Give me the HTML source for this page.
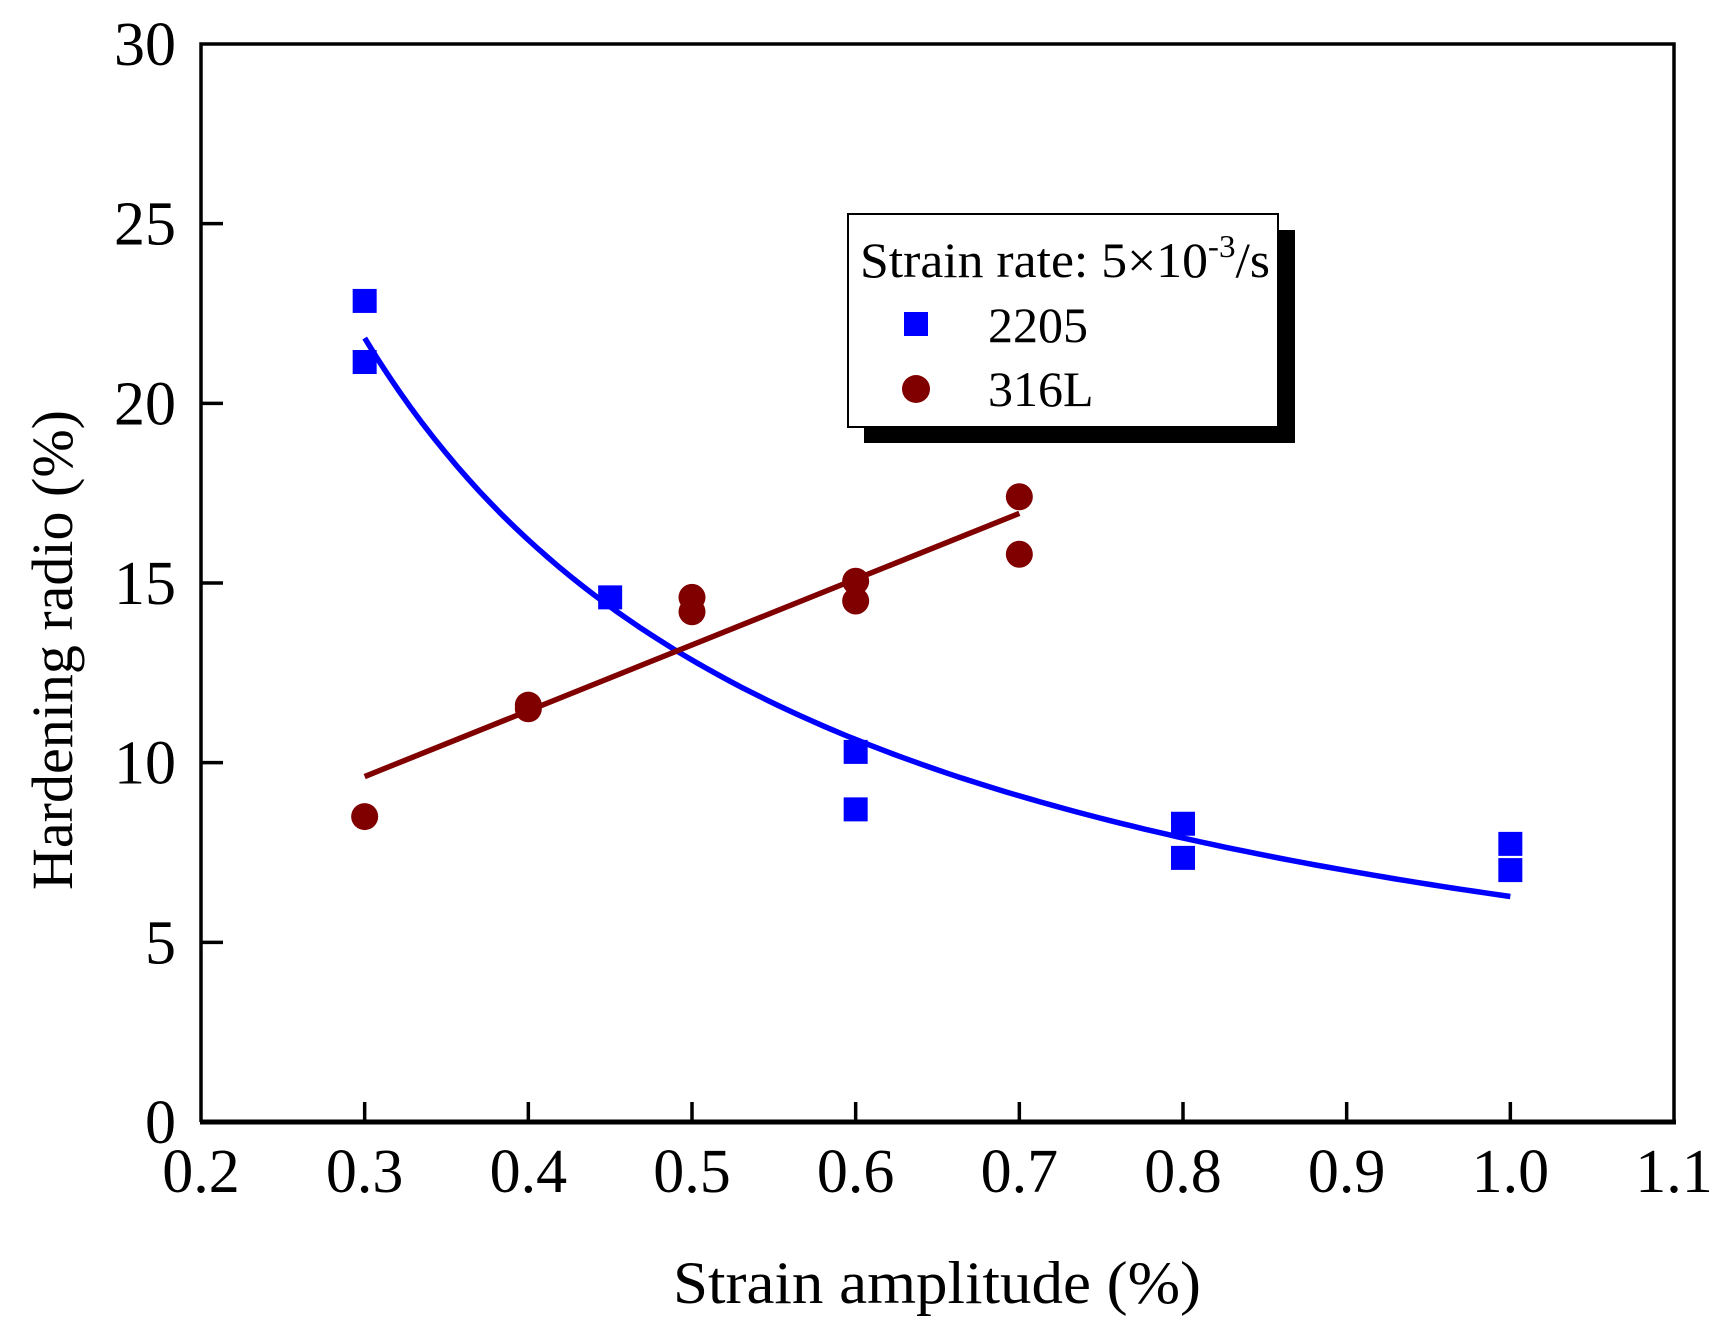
<!DOCTYPE html>
<html><head><meta charset="utf-8"><style>
html,body{margin:0;padding:0;background:#fff}
svg{display:block;font-family:"Liberation Serif",serif}
</style></head><body>
<svg id="chart" width="1727" height="1329" viewBox="0 0 1727 1329">
<rect x="0" y="0" width="1727" height="1329" fill="#fff"/>
<g id="marks"></g>
<g id="axes"></g>
<g>
<rect x="864" y="230" width="431" height="213" fill="#000"/>
<rect x="848" y="214" width="430" height="213" fill="#fff" stroke="#000" stroke-width="2"/>
<text x="860" y="277" font-size="50" textLength="410" lengthAdjust="spacingAndGlyphs">Strain rate: 5×10<tspan dy="-20" font-size="32">-3</tspan><tspan dy="20">/s</tspan></text>
<rect x="904" y="312" width="24" height="24" fill="#0000ff"/>
<text x="988" y="342" font-size="50">2205</text>
<circle cx="916" cy="389" r="14" fill="#800000"/>
<text x="988" y="406" font-size="50">316L</text>
</g>
<text x="937" y="1303" font-size="60" text-anchor="middle" textLength="528" lengthAdjust="spacingAndGlyphs">Strain amplitude (%)</text>
<text transform="translate(72,650) rotate(-90)" font-size="58" text-anchor="middle">Hardening radio (%)</text>
</svg>
<script>
const xTicks = [0.2,0.3,0.4,0.5,0.6,0.7,0.8,0.9,1.0,1.1];
const xTickLabels = ["0.2","0.3","0.4","0.5","0.6","0.7","0.8","0.9","1.0","1.1"];
const yTicks = [0,5,10,15,20,25,30];
const yTickLabels = ["0","5","10","15","20","25","30"];
const x2205 = [0.3,0.3,0.45,0.6,0.6,0.8,0.8,1.0,1.0];
const y2205 = [22.85,21.15,14.6,10.3,8.7,8.3,7.35,7.74,7.01];
const x316 = [0.3,0.4,0.4,0.5,0.5,0.6,0.6,0.7,0.7];
const y316 = [8.5,11.6,11.5,14.6,14.2,15.05,14.5,17.4,15.8];

const L=201,R=1674,T=44,B=1122;
const sx=v=>L+(v-0.2)/(0.9)*(R-L);
const sy=v=>B-(v/30)*(B-T);
const NS="http://www.w3.org/2000/svg";
const marks=document.getElementById('marks'), axes=document.getElementById('axes');
function mk(tag,attrs,parent){const e=document.createElementNS(NS,tag);for(const k in attrs)e.setAttribute(k,attrs[k]);parent.appendChild(e);return e;}

// nonlinear least-squares power fit y = a*x^b
function powerFit(xs,ys){let best=null;
 for(let b=-3;b<=0;b+=0.001){let num=0,den=0;for(let i=0;i<xs.length;i++){const p=Math.pow(xs[i],b);num+=ys[i]*p;den+=p*p;}
  const a=num/den;let s=0;for(let i=0;i<xs.length;i++){const r=ys[i]-a*Math.pow(xs[i],b);s+=r*r;}
  if(!best||s<best.s)best={a,b,s};}
 return x=>best.a*Math.pow(x,best.b);}
function linFit(xs,ys){const n=xs.length;let a=0,b=0,c=0,d=0;for(let i=0;i<n;i++){a+=xs[i];b+=ys[i];c+=xs[i]*xs[i];d+=xs[i]*ys[i];}const k=(n*d-a*b)/(n*c-a*a);const m=(b-k*a)/n;return x=>m+k*x;}
const f1=powerFit(x2205,y2205), f2=linFit(x316,y316);
let p1="";const x1a=Math.min(...x2205),x1b=Math.max(...x2205);
for(let i=0;i<=100;i++){const x=x1a+(x1b-x1a)*i/100;p1+=(i?"L":"M")+sx(x).toFixed(1)+","+sy(f1(x)).toFixed(1);}
const fit1=mk('path',{d:p1,fill:"none",stroke:"#0000ff","stroke-width":5.5},marks);


const x2a=Math.min(...x316),x2b=Math.max(...x316);
const fit2=mk('line',{x1:sx(x2a),y1:sy(f2(x2a)),x2:sx(x2b),y2:sy(f2(x2b)),stroke:"#800000","stroke-width":5.5},marks);



x2205.forEach((x,i)=>{const r=mk('rect',{x:sx(x)-12,y:sy(y2205[i])-12,width:24,height:24,fill:"#0000ff"},marks);

});
x316.forEach((x,i)=>{const c=mk('circle',{cx:sx(x),cy:sy(y316[i]),r:13.5,fill:"#800000"},marks);

});

const fr=mk('path',{d:`M${L},${B}L${L},${T}L${R},${T}L${R},${B}`,fill:"none",stroke:"#000","stroke-width":3.5},axes);


const xb=mk('line',{x1:L-1,y1:B,x2:R+2,y2:B,stroke:"#000","stroke-width":5},axes);


xTicks.forEach((v,i)=>{
 if(i>0&&i<xTicks.length-1){const t=mk('line',{x1:sx(v),y1:B,x2:sx(v),y2:B-20,stroke:"#000","stroke-width":3.5},axes);
 
 }
 const tx=mk('text',{x:sx(v),y:B+70,"font-size":62,"text-anchor":"middle"},axes);tx.textContent=xTickLabels[i];
 
 
});
yTicks.forEach((v,i)=>{
 if(i>0&&i<yTicks.length-1){const t=mk('line',{x1:L,y1:sy(v),x2:L+22,y2:sy(v),stroke:"#000","stroke-width":3.5},axes);
 
 }
 const tx=mk('text',{x:176,y:sy(v)+21,"font-size":62,"text-anchor":"end"},axes);tx.textContent=yTickLabels[i];
 
 
});
</script>
</body></html>
